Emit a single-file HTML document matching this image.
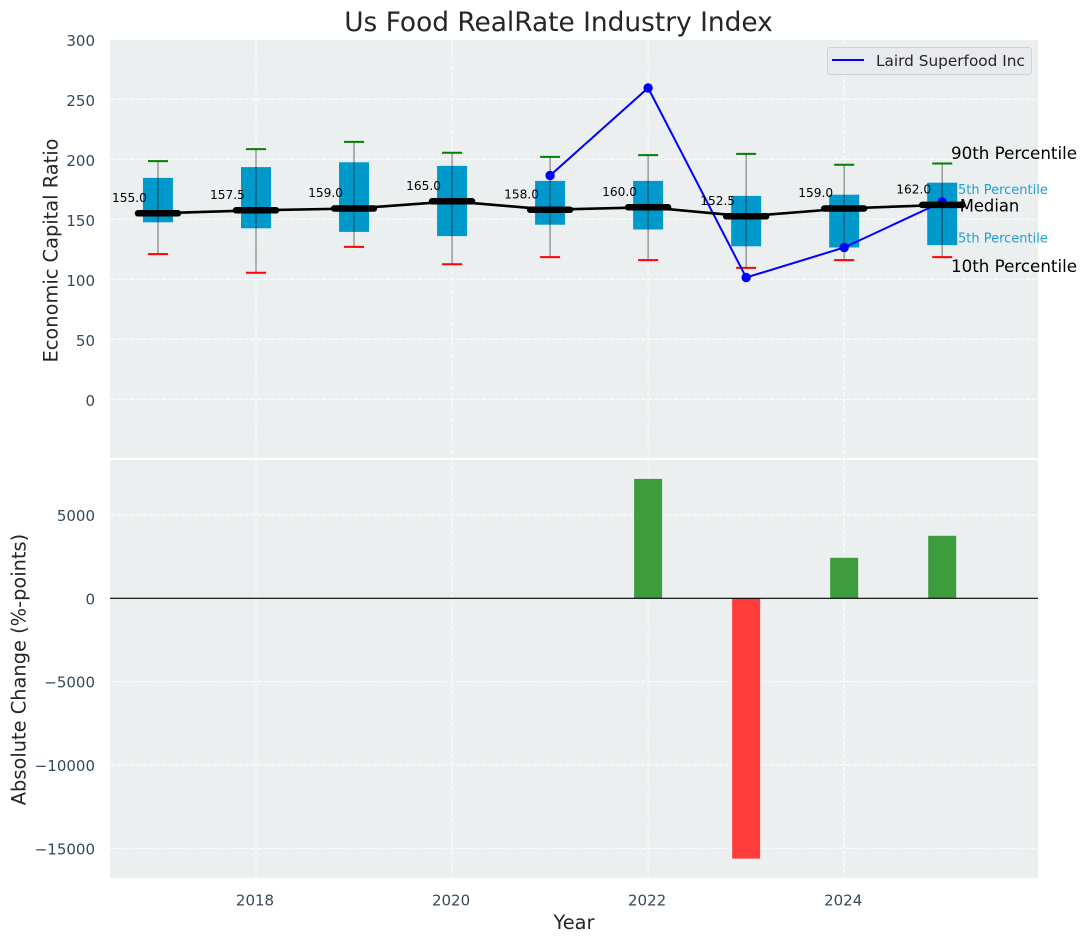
<!DOCTYPE html>
<html>
<head>
<meta charset="utf-8">
<title>Us Food RealRate Industry Index</title>
<style>
html,body{margin:0;padding:0;background:#fff}
svg{display:block}
text{font-family:"DejaVu Sans","Liberation Sans",sans-serif}
</style>
</head>
<body>
<svg id="chart" xmlns="http://www.w3.org/2000/svg" width="1086" height="942" viewBox="0 0 1086 942"></svg>
<script>
const years = [2017, 2018, 2019, 2020, 2021, 2022, 2023, 2024, 2025];
const p90 = [199, 209, 215, 206, 202.5, 204, 205, 196, 197];
const p75 = [185, 194, 198, 195, 182.5, 182.5, 170, 171, 181];
const medians = [155, 157.5, 159, 165, 158, 160, 152.5, 159, 162];
const p25 = [148, 143, 140, 136.5, 146, 142, 128, 127, 129];
const p10 = [121.5, 106, 127.5, 113, 119, 116.5, 110, 116.5, 119];
const companyValues = [null, null, null, null, 187, 260, 102, 127, 165];
const changeValues = [null, null, null, null, null, 7165, -15620, 2430, 3750];
const topTicks = [0, 50, 100, 150, 200, 250, 300];
const bottomTicks = [-15000, -10000, -5000, 0, 5000];
const yearTicks = [2018, 2020, 2022, 2024];

const svg = document.getElementById('chart');
const NS = 'http://www.w3.org/2000/svg';
const plotLeft = 110, plotRight = 1038;
const topPanel = 40, topPanelEnd = 458, bottomPanel = 460, bottomPanelEnd = 878;
const xs = v => 256 + (v - 2018) * 98.03;
const yTop = v => 399.9 - v * 1.2;
const yGrid = v => 399.3 - v * 1.2;
const yMedian = v => 399.3 - v * 1.2;
const yBottom = v => 598.3 - v * 83.33 / 5000;

function make(tag, attrs, text) {
  const el = document.createElementNS(NS, tag);
  for (const k in attrs) el.setAttribute(k, attrs[k]);
  if (text !== undefined) el.textContent = text;
  svg.appendChild(el);
  return el;
}
const fmt = v => (v < 0 ? '\u2212' + Math.abs(v) : String(v));
const gridStyle = {stroke: '#ffffff', 'stroke-width': 1.1, 'stroke-dasharray': '4.2 2.2', 'stroke-opacity': 0.85};

let el;
el = make('rect', {x: plotLeft, y: topPanel, width: plotRight - plotLeft, height: topPanelEnd - topPanel, fill: '#ebeff0'});


el = make('rect', {x: plotLeft, y: bottomPanel, width: plotRight - plotLeft, height: bottomPanelEnd - bottomPanel, fill: '#ebeff0'});



topTicks.forEach(t => {
  el = make('line', {x1: plotLeft, x2: plotRight, y1: yGrid(t), y2: yGrid(t), ...gridStyle});
  
  
  el = make('text', {x: 95, y: yGrid(t) + 6.6, 'text-anchor': 'end', 'font-size': 15, fill: '#34495e'}, fmt(t));
  
  
});
bottomTicks.forEach(t => {
  el = make('line', {x1: plotLeft, x2: plotRight, y1: yBottom(t), y2: yBottom(t), ...gridStyle});
  
  
  el = make('text', {x: 95, y: yBottom(t) + 6, 'text-anchor': 'end', 'font-size': 15, fill: '#34495e'}, fmt(t));
  
  
});
yearTicks.forEach(t => {
  el = make('line', {x1: xs(t), x2: xs(t), y1: topPanel, y2: topPanelEnd, ...gridStyle});
  
  
  el = make('line', {x1: xs(t), x2: xs(t), y1: bottomPanel, y2: bottomPanelEnd, ...gridStyle});
  
  
  el = make('text', {x: xs(t) - 1, y: 905.5, 'text-anchor': 'middle', 'font-size': 15, fill: '#34495e'}, String(t));
  
  
});

/* percentile annotations sit behind the last box */
const last = years.length - 1;
el = make('text', {x: xs(years[last]) + 8.8, y: yTop(p90[last]) - 4.6, 'font-size': 16.7, fill: '#000'}, '90th Percentile');


el = make('text', {x: xs(years[last]) + 8.8, y: yTop(p10[last]) + 14.9, 'font-size': 16.7, fill: '#000'}, '10th Percentile');


el = make('text', {x: xs(years[last]) + 7.5, y: yTop(p75[last]) + 11.4, 'font-size': 13, fill: '#1f9fd0'}, '75th Percentile');


el = make('text', {x: xs(years[last]) + 7.5, y: yTop(p25[last]) - 2.6, 'font-size': 13, fill: '#1f9fd0'}, '25th Percentile');



/* boxes, whiskers, caps */
years.forEach((yr, i) => {
  const x = xs(yr);
  el = make('rect', {x: x - 15, y: yTop(p75[i]), width: 30, height: yTop(p25[i]) - yTop(p75[i]), fill: '#0099cc'});
  
  
  el = make('line', {x1: x, x2: x, y1: yTop(p90[i]), y2: yTop(p10[i]), stroke: '#000', 'stroke-opacity': 0.42, 'stroke-width': 1.3});
  
  
  el = make('line', {x1: x - 10, x2: x + 10, y1: yTop(p90[i]), y2: yTop(p90[i]), stroke: '#008000', 'stroke-width': 2});
  
  
  el = make('line', {x1: x - 10, x2: x + 10, y1: yTop(p10[i]), y2: yTop(p10[i]), stroke: '#ff0000', 'stroke-width': 2});
  
  
});

/* company series */
const companyPts = years.map((yr, i) => companyValues[i] === null ? null : xs(yr) + ',' + yTop(companyValues[i])).filter(Boolean);
el = make('polyline', {points: companyPts.join(' '), fill: 'none', stroke: '#0000ff', 'stroke-width': 2});


years.forEach((yr, i) => {
  if (companyValues[i] === null) return;
  el = make('circle', {cx: xs(yr), cy: yTop(companyValues[i]), r: 4.7, fill: '#0000ff'});
  
  
});

/* median line and thick median bars */
el = make('polyline', {points: years.map((yr, i) => xs(yr) + ',' + yMedian(medians[i])).join(' '), fill: 'none', stroke: '#000', 'stroke-width': 2.6});


years.forEach((yr, i) => {
  const x = xs(yr), y = yMedian(medians[i]);
  el = make('line', {x1: x - 20, x2: x + 20, y1: y, y2: y, stroke: '#000', 'stroke-width': 6.5, 'stroke-linecap': 'round'});
  
  
  el = make('text', {x: x - 28.5, y: y - 11.3, 'text-anchor': 'middle', 'font-size': 12.2, fill: '#000'}, medians[i].toFixed(1));
  
  
});
el = make('text', {x: xs(years[last]) + 17.5, y: yMedian(medians[last]) + 6.5, 'font-size': 16.4, fill: '#000'}, 'Median');



/* change bars */
years.forEach((yr, i) => {
  const v = changeValues[i];
  if (v === null) return;
  const a = yBottom(Math.max(v, 0)), b = yBottom(Math.min(v, 0));
  el = make('rect', {x: xs(yr) - 14, y: a, width: 28, height: b - a, fill: v >= 0 ? '#3d9c3d' : '#ff3d3d'});
  
  
});
el = make('line', {x1: plotLeft, x2: plotRight, y1: yBottom(0), y2: yBottom(0), stroke: '#000', 'stroke-width': 1.2});



/* legend */
el = make('rect', {x: 827.5, y: 47.5, width: 204, height: 27, rx: 3, fill: '#e8eaf0', stroke: '#cfd1d6', 'stroke-width': 1});


el = make('line', {x1: 832, x2: 864, y1: 60, y2: 60, stroke: '#0000ff', 'stroke-width': 2});


el = make('text', {x: 876, y: 66, 'font-size': 15.3, fill: '#262626'}, 'Laird Superfood Inc');



/* titles */
el = make('text', {x: 558.5, y: 31, 'text-anchor': 'middle', 'font-size': 26.4, fill: '#262626'}, 'Us Food RealRate Industry Index');


el = make('text', {x: 574, y: 929, 'text-anchor': 'middle', 'font-size': 19.4, fill: '#262626'}, 'Year');


el = make('text', {transform: 'translate(57.5,250.5) rotate(-90)', 'text-anchor': 'middle', 'font-size': 19.4, fill: '#262626'}, 'Economic Capital Ratio');


el = make('text', {transform: 'translate(25.5,669.5) rotate(-90)', 'text-anchor': 'middle', 'font-size': 19.4, fill: '#262626'}, 'Absolute Change (%-points)');


</script>
</body>
</html>
